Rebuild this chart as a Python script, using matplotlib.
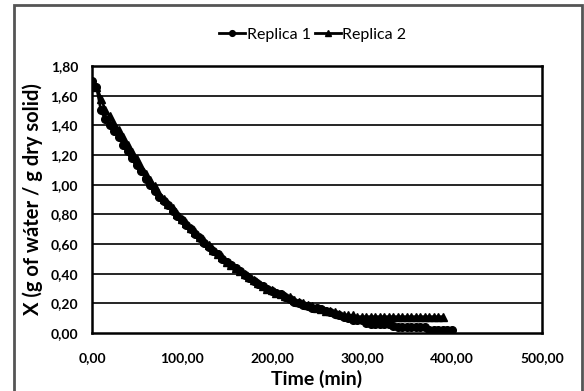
import numpy as np
import matplotlib
matplotlib.use('agg')
import matplotlib.pyplot as plt
from matplotlib.patches import Rectangle
from matplotlib.ticker import FuncFormatter

plt.rcParams['font.family'] = ['Lato', 'DejaVu Sans']

# Replica 1, readings every 5 min (0..400)
time_r1 = list(range(0, 405, 5))
x_r1 = [1.70, 1.66, 1.50, 1.44, 1.40, 1.36, 1.32, 1.27, 1.23, 1.18,
        1.13, 1.09, 1.04, 1.00, 0.96, 0.92, 0.89, 0.86, 0.82, 0.79,
        0.76, 0.73, 0.70, 0.67, 0.64, 0.61, 0.58, 0.55, 0.53, 0.50,
        0.48, 0.46, 0.44, 0.42, 0.39, 0.37, 0.35, 0.33, 0.32, 0.30,
        0.28, 0.27, 0.26, 0.24, 0.23, 0.21, 0.20, 0.19, 0.18, 0.17,
        0.17, 0.16, 0.15, 0.14, 0.13, 0.12, 0.11, 0.10, 0.09, 0.09,
        0.09, 0.07, 0.06, 0.06, 0.06, 0.06, 0.06, 0.05, 0.04, 0.04,
        0.04, 0.04, 0.04, 0.04, 0.04, 0.02, 0.02, 0.02, 0.02, 0.02,
        0.02]

# Replica 2, readings every 5 min (0..390)
time_r2 = list(range(0, 395, 5))
x_r2 = [1.70, 1.66, 1.58, 1.50, 1.46, 1.41, 1.37, 1.32, 1.27, 1.22,
        1.17, 1.12, 1.07, 1.03, 0.99, 0.94, 0.90, 0.87, 0.84, 0.80,
        0.77, 0.74, 0.71, 0.68, 0.65, 0.62, 0.59, 0.56, 0.53, 0.51,
        0.48, 0.46, 0.44, 0.42, 0.40, 0.38, 0.36, 0.34, 0.32, 0.30,
        0.29, 0.27, 0.26, 0.25, 0.24, 0.22, 0.21, 0.20, 0.19, 0.18,
        0.17, 0.16, 0.15, 0.15, 0.14, 0.13, 0.12, 0.12, 0.12, 0.11,
        0.11, 0.11, 0.11, 0.11, 0.11, 0.11, 0.11, 0.11, 0.11, 0.11,
        0.11, 0.11, 0.11, 0.11, 0.11, 0.11, 0.11, 0.11, 0.11]

x_ticks = [0, 100, 200, 300, 400, 500]
y_ticks = [0.0, 0.2, 0.4, 0.6, 0.8, 1.0, 1.2, 1.4, 1.6, 1.8]

def comma2(v, pos=None):
    return ("%.2f" % v).replace(".", ",")

fig = plt.figure(figsize=(5.84, 3.91), dpi=100)
ax = fig.add_axes([0.1575, 0.1483, 0.7705, 0.683])

# outer chart frame
fig.patches.append(Rectangle((14/584, -0.05), 568/584, 1 - 5/391 + 0.05,
                             transform=fig.transFigure, fill=False,
                             edgecolor='#555555', linewidth=2))

for y in y_ticks[1:-1]:
    ax.axhline(y, color='black', linewidth=1.2, zorder=1)

ax.plot(time_r1, x_r1, color='black', marker='o', markersize=5.5,
        linewidth=2, label='Replica 1', zorder=3)
ax.plot(time_r2, x_r2, color='black', marker='^', markersize=5.5,
        linewidth=2, label='Replica 2', zorder=3)

ax.set_xlim(0, 500)
ax.set_ylim(0, 1.8)
ax.set_xticks(x_ticks)
ax.set_yticks(y_ticks)
ax.xaxis.set_major_formatter(FuncFormatter(comma2))
ax.yaxis.set_major_formatter(FuncFormatter(comma2))
ax.tick_params(length=0, labelsize=10)
ax.tick_params(axis='y', pad=10)
ax.tick_params(axis='x', pad=14)
for lbl in ax.get_xticklabels() + ax.get_yticklabels():
    lbl.set_fontweight('bold')
for s in ax.spines.values():
    s.set_linewidth(1.8)
    s.set_color('black')

ax.set_xlabel('Time (min)', fontsize=14, fontweight='bold', va='center')
ax.xaxis.set_label_coords(0.5, (333 - 379) / 267)
ax.set_ylabel('X (g of wáter / g dry solid)', fontsize=14.5, fontweight='bold', va='center')
ax.yaxis.set_label_coords((33 - 92) / 450, 0.5)

fig.legend(loc='center', bbox_to_anchor=(313/584, 1 - 35/391), ncol=2,
           frameon=False, fontsize=11.5, handlelength=1.6, handletextpad=0.1,
           columnspacing=0.3, markerscale=0.75)

fig.savefig('out.png', dpi=100)
